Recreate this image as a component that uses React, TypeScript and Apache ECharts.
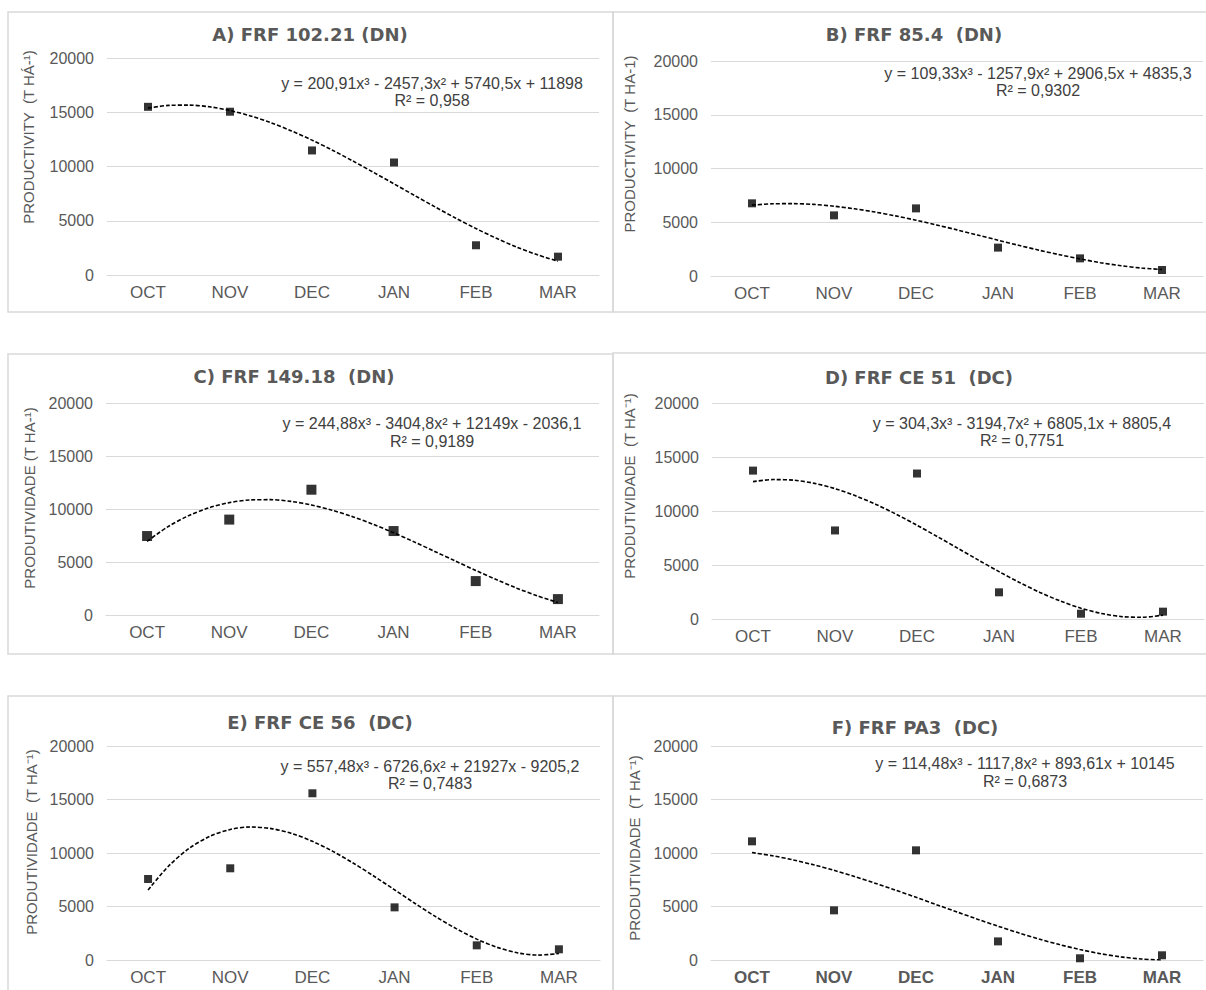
import React, { useEffect, useRef } from "react";
import * as echarts from "echarts";

const months = ["OCT", "NOV", "DEC", "JAN", "FEB", "MAR"];
const trendX = [1, 1.25, 1.5, 1.75, 2, 2.25, 2.5, 2.75, 3, 3.25, 3.5, 3.75, 4, 4.25, 4.5, 4.75, 5, 5.25, 5.5, 5.75, 6];
const yTicks = [0, 5000, 10000, 15000, 20000];

const obsA = [15500, 15050, 11480, 10370, 2740, 1690];
const trendA = [15380, 15630, 15660, 15500, 15160, 14660, 14030, 13280, 12430, 11500, 10500, 9460, 8400, 7330, 6280, 5250, 4280, 3380, 2560, 1860, 1270];
const obsB = [6760, 5640, 6290, 2640, 1640, 560];
const trendB = [6590, 6720, 6730, 6660, 6490, 6250, 5950, 5590, 5190, 4750, 4290, 3810, 3330, 2860, 2400, 1980, 1590, 1240, 960, 740, 610];
const obsC = [7450, 9000, 11820, 7920, 3200, 1500];
const trendC = [6950, 8310, 9350, 10110, 10600, 10850, 10880, 10720, 10380, 9890, 9280, 8560, 7760, 6900, 6000, 5100, 4200, 3340, 2530, 1800, 1180];
const obsD = [13740, 8200, 13470, 2470, 490, 680];
const trendD = [12720, 12910, 12850, 12560, 12070, 11410, 10610, 9690, 8680, 7620, 6540, 5450, 4390, 3380, 2460, 1660, 1000, 510, 220, 160, 360];
const obsE = [7570, 8570, 15580, 4920, 1370, 1000];
const trendE = [6550, 8780, 10430, 11550, 12200, 12430, 12280, 11820, 11090, 10150, 9040, 7830, 6560, 5280, 4050, 2930, 1950, 1180, 660, 460, 610];
const obsF = [11090, 4640, 10250, 1740, 160, 440];
const trendF = [10040, 9740, 9360, 8900, 8380, 7800, 7180, 6530, 5860, 5170, 4490, 3810, 3160, 2540, 1960, 1440, 980, 590, 290, 90, 0];

const titles = [
  "A) FRF 102.21 (DN)",
  "B) FRF 85.4  (DN)",
  "C) FRF 149.18  (DN)",
  "D) FRF CE 51  (DC)",
  "E) FRF CE 56  (DC)",
  "F) FRF PA3  (DC)",
];
const equations = [
  "y = 200,91x³ - 2457,3x² + 5740,5x + 11898",
  "y = 109,33x³ - 1257,9x² + 2906,5x + 4835,3",
  "y = 244,88x³ - 3404,8x² + 12149x - 2036,1",
  "y = 304,3x³ - 3194,7x² + 6805,1x + 8805,4",
  "y = 557,48x³ - 6726,6x² + 21927x - 9205,2",
  "y = 114,48x³ - 1117,8x² + 893,61x + 10145",
];
const r2Labels = ["R² = 0,958", "R² = 0,9302", "R² = 0,9189", "R² = 0,7751", "R² = 0,7483", "R² = 0,6873"];
const yNames = [
  "PRODUCTIVITY  (T HÁ-¹)",
  "PRODUCTIVITY  (T HA-1)",
  "PRODUTIVIDADE (T HA-¹)",
  "PRODUTIVIDADE  (T HA⁻¹)",
  "PRODUTIVIDADE  (T HA⁻¹)",
  "PRODUTIVIDADE  (T HA⁻¹)",
];

const observed = [obsA, obsB, obsC, obsD, obsE, obsF];
const trends = [trendA, trendB, trendC, trendD, trendE, trendF];

// layout
const grids = [
  { left: 107, top: 58, width: 492, height: 217 },
  { left: 711, top: 61, width: 492, height: 215 },
  { left: 106, top: 403, width: 493, height: 212 },
  { left: 712, top: 403, width: 492, height: 216 },
  { left: 107, top: 746, width: 493, height: 214 },
  { left: 711, top: 746, width: 492, height: 214 },
];
const namePos = [
  [28, 137], [629, 144], [29, 498], [629, 486], [31, 842], [634, 848],
];
const symbolSizes = [8, 8, 10, 8, 8, 8];
const titlePos = [
  [310, 34], [914, 34], [294, 376], [919, 377], [320, 722], [915, 727],
];
const eqPos = [
  [432, 83, 100], [1038, 73, 90], [432, 423, 441], [1022, 423, 440], [430, 766, 783], [1025, 763, 781],
];
const borders = [
  [8, 12, 605, 300], [613, 12, 600, 300], [8, 354, 605, 300], [613, 353, 600, 301], [8, 696, 605, 320], [613, 696, 600, 320],
];

const FONT = '"Liberation Sans", Arial, sans-serif';
const TITLE_FONT = '"DejaVu Sans", "Liberation Sans", sans-serif';
const GRAY = "#595959";

export default function App() {
  const ref = useRef<HTMLDivElement>(null);
  useEffect(() => {
    document.body.style.margin = "0";
    if (!ref.current) return;
    const chart = echarts.init(ref.current, null, { renderer: "svg" });

    const xAxis: any[] = [];
    const yAxis: any[] = [];
    const series: any[] = [];
    grids.forEach((g, i) => {
      xAxis.push({
        type: "category",
        gridIndex: i,
        data: months,
        boundaryGap: true,
        axisLine: { lineStyle: { color: "#d9d9d9", width: 1.2 } },
        axisTick: { show: false },
        axisLabel: {
          color: GRAY,
          fontSize: 17,
          fontFamily: FONT,
          fontWeight: i === 5 ? "bold" : "normal",
          margin: 9,
        },
      });
      xAxis.push({
        type: "value",
        gridIndex: i,
        min: 0.5,
        max: 6.5,
        show: false,
      });
      yAxis.push({
        type: "value",
        gridIndex: i,
        min: yTicks[0],
        max: yTicks[yTicks.length - 1],
        interval: yTicks[1] - yTicks[0],
        axisLine: { show: false },
        axisTick: { show: false },
        axisLabel: {
          color: GRAY,
          fontSize: 16,
          fontFamily: FONT,
          margin: 13,
          formatter: (v: number) => String(v),
        },
        splitLine: { lineStyle: { color: "#d9d9d9", width: 1.2 } },
      });
      series.push({
        type: "line",
        xAxisIndex: i * 2 + 1,
        yAxisIndex: i,
        data: trendX.map((x, k) => [x, trends[i][k]]),
        smooth: 0.3,
        showSymbol: false,
        symbol: "none",
        lineStyle: { color: "#000", width: 1.6, type: [4, 2] },
        z: 2,
      });
      series.push({
        type: "scatter",
        xAxisIndex: i * 2,
        yAxisIndex: i,
        data: observed[i],
        symbol: "rect",
        symbolSize: symbolSizes[i],
        itemStyle: { color: "#000" },
        z: 3,
      });
    });

    const graphic: any[] = [];
    borders.forEach((b) => {
      graphic.push({
        type: "rect",
        shape: { x: b[0], y: b[1], width: b[2], height: b[3] },
        style: { fill: "none", stroke: "#d9d9d9", lineWidth: 1.5 },
        z: -1,
        silent: true,
      });
    });
    titles.forEach((t, i) => {
      graphic.push({
        type: "text",
        x: titlePos[i][0],
        y: titlePos[i][1],
        style: {
          text: t,
          fill: GRAY,
          font: `bold 18px ${TITLE_FONT}`,
          align: "center",
          verticalAlign: "middle",
        },
      });
      graphic.push({
        type: "text",
        x: eqPos[i][0],
        y: eqPos[i][1],
        style: {
          text: equations[i],
          fill: "#404040",
          font: `16px ${FONT}`,
          align: "center",
          verticalAlign: "middle",
        },
      });
      graphic.push({
        type: "text",
        x: eqPos[i][0],
        y: eqPos[i][2],
        style: {
          text: r2Labels[i],
          fill: "#404040",
          font: `16px ${FONT}`,
          align: "center",
          verticalAlign: "middle",
        },
      });
      graphic.push({
        type: "text",
        x: namePos[i][0],
        y: namePos[i][1],
        rotation: Math.PI / 2,
        style: {
          text: yNames[i],
          fill: GRAY,
          font: `15px ${FONT}`,
          align: "center",
          verticalAlign: "middle",
        },
      });
    });

    chart.setOption({
      animation: false,
      backgroundColor: "#fff",
      grid: grids.map((g) => ({ ...g })),
      xAxis,
      yAxis,
      series,
      graphic,
    });
    return () => chart.dispose();
  }, []);
  return <div ref={ref} style={{ width: 1206, height: 990 }} />;
}
